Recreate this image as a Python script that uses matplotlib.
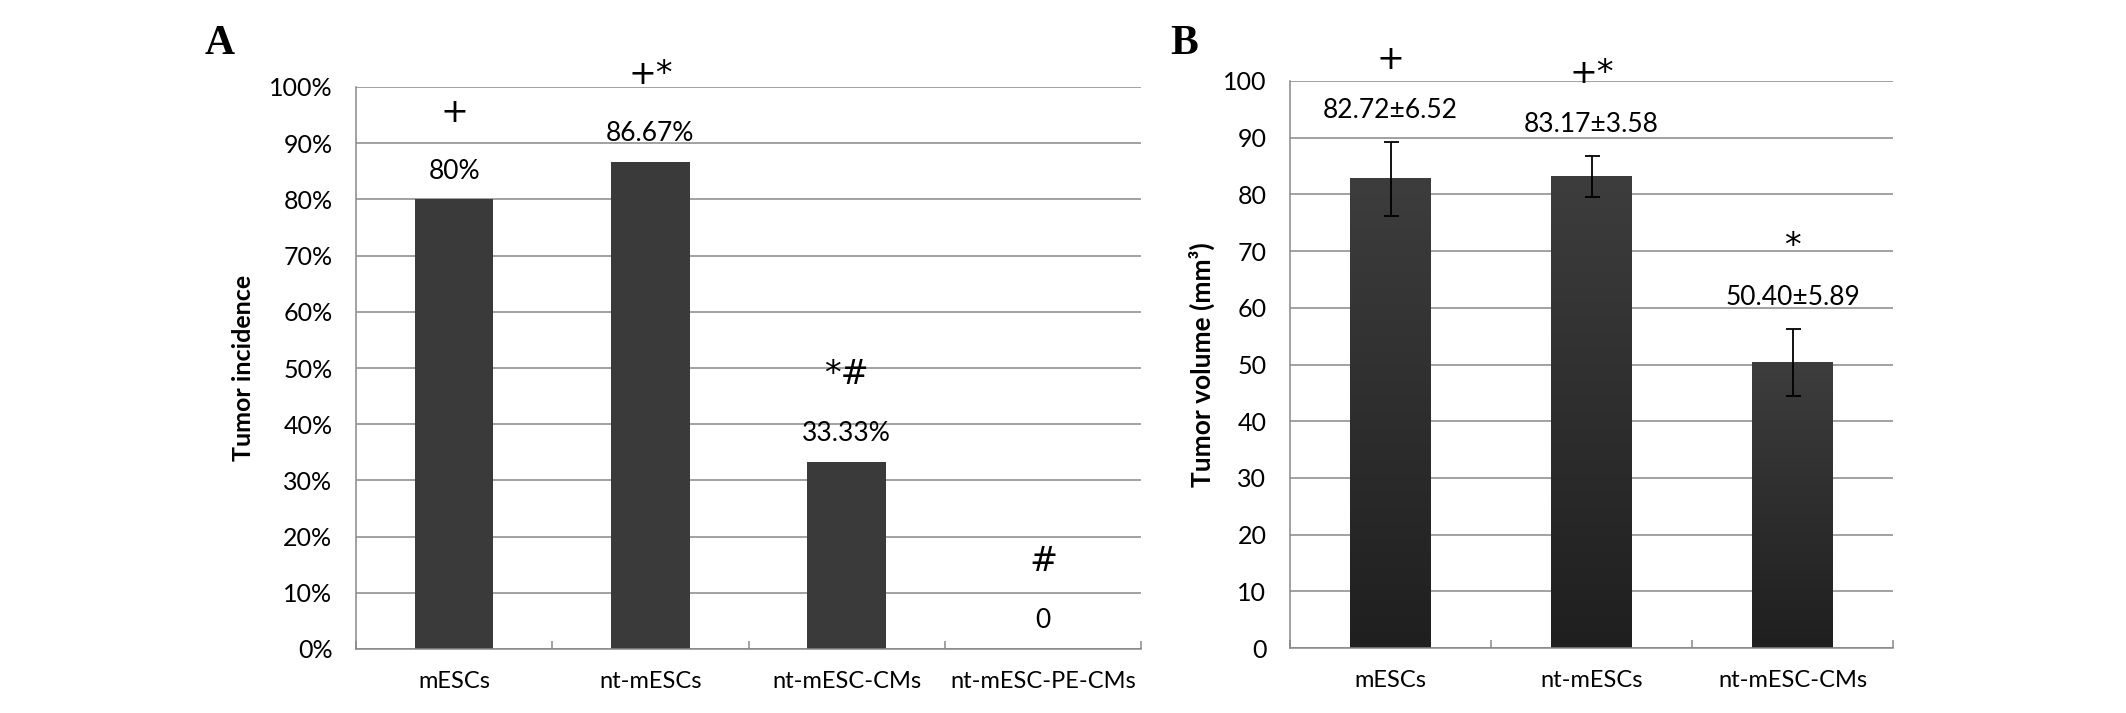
import numpy as np
import matplotlib.pyplot as plt
from matplotlib.colors import LinearSegmentedColormap

# panel A: tumor incidence
groups_a = ['mESCs', 'nt-mESCs', 'nt-mESC-CMs', 'nt-mESC-PE-CMs']
incidence = [80, 86.67, 33.33, 0]
incidence_text = ['80%', '86.67%', '33.33%', '0']
marks_a = ['+', '+*', '*#', '#']

# panel B: tumor volume (mean +- sd)
groups_b = ['mESCs', 'nt-mESCs', 'nt-mESC-CMs']
volume = [82.72, 83.17, 50.40]
volume_sd = [6.52, 3.58, 5.89]
volume_text = ['82.72±6.52', '83.17±3.58', '50.40±5.89']
marks_b = ['+', '+*', '*']

plt.rcParams['font.family'] = ['Lato', 'DejaVu Sans']
GRID = '#878787'
W, H = 2126, 713


def style_axes(ax, n, ymax, step):
    ax.set_xlim(-0.5, n - 0.5)
    ax.set_ylim(0, ymax)
    ax.set_yticks(np.arange(0, ymax + step / 2, step))
    ax.yaxis.grid(True, color=GRID, lw=1.1)
    ax.set_axisbelow(True)
    for s in ['top', 'right']:
        ax.spines[s].set_visible(False)
    for s in ['left', 'bottom']:
        ax.spines[s].set_color(GRID)
        ax.spines[s].set_linewidth(1.1)
    ax.set_xticks(range(n))
    ax.set_xticks(np.arange(-0.5, n), minor=True)
    ax.tick_params(axis='x', which='major', length=0, pad=16, labelsize=17)
    ax.tick_params(axis='x', which='minor', direction='in', length=6, color=GRID, width=1.1)
    ax.tick_params(axis='y', length=0, pad=17, labelsize=18)


fig = plt.figure(figsize=(W / 100, H / 100), dpi=100)

# ---------------- A ----------------
axA = fig.add_axes([356 / W, 1 - 649 / H, 785 / W, 562 / H])
xa = np.arange(len(groups_a))
axA.bar(xa, incidence, width=0.40, color='#3a3a3a', zorder=2)
style_axes(axA, len(groups_a), 100, 10)
axA.set_xticklabels(groups_a)
axA.set_yticklabels([f'{v}%' for v in range(0, 101, 10)])
axA.set_ylabel('Tumor incidence', fontsize=18, fontweight='bold')
axA.yaxis.set_label_coords(-0.129, 0.5)
for i, v in enumerate(incidence):
    axA.text(i, v + 5, incidence_text[i], ha='center', va='center', fontsize=19)
    axA.text(i, v + 15.5, marks_a[i], ha='center', va='center', fontsize=24,
             family='DejaVu Sans', clip_on=False)

# ---------------- B ----------------
axB = fig.add_axes([1290 / W, 1 - 648 / H, 603 / W, 567 / H])
xb = np.arange(len(groups_b))
bars = axB.bar(xb, volume, width=0.40, color='none', zorder=2)
cm = LinearSegmentedColormap.from_list('bar', ['#1f1f1f', '#3d3d3d'])
grad = np.linspace(0, 1, 256).reshape(-1, 1)
for b in bars:
    axB.imshow(grad, extent=[b.get_x(), b.get_x() + b.get_width(), 0, b.get_height()],
               origin='lower', aspect='auto', cmap=cm, zorder=2)
axB.errorbar(xb, volume, yerr=volume_sd, fmt='none', ecolor='black',
             elinewidth=1.3, capsize=5.4, capthick=1.3, zorder=3)
style_axes(axB, len(groups_b), 100, 10)
axB.set_xticklabels(groups_b)
axB.set_ylabel('Tumor volume (mm³)', fontsize=19, fontweight='bold')
axB.yaxis.set_label_coords(-0.124, 0.5)
for i, v in enumerate(volume):
    top = v + volume_sd[i]
    axB.text(i, top + 5.5, volume_text[i], ha='center', va='center', fontsize=19)
    axB.text(i, top + 14.5, marks_b[i], ha='center', va='center', fontsize=24,
             family='DejaVu Sans', clip_on=False)

fig.text(205 / W, 1 - 44 / H, 'A', family='Liberation Serif', fontweight='bold', fontsize=30,
         ha='left', va='center')
fig.text(1170 / W, 1 - 44 / H, 'B', family='Liberation Serif', fontweight='bold', fontsize=30,
         ha='left', va='center')

fig.savefig('out.png', dpi=100)
